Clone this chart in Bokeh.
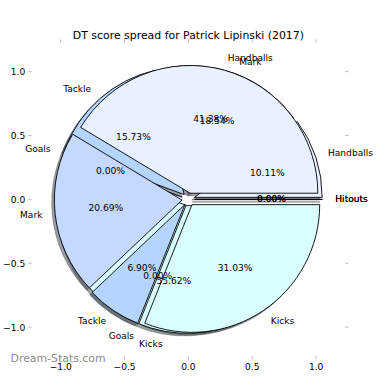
import numpy as np
from bokeh.plotting import figure
from bokeh.models import Range1d
from bokeh.embed import file_html
from bokeh.resources import INLINE
from bokeh.core.properties import value

# ---------------- data ----------------
title_text = "DT score spread for Patrick Lipinski (2017)"
watermark_text = "Dream-Stats.com"
categories = ["Handballs", "Mark", "Tackle", "Goals", "Kicks", "Hitouts"]
player_pct = [41.38, 20.69, 6.90, 0.00, 31.03, 0.00]     # pie drawn on top
compare_pct = [10.11, 18.54, 15.73, 0.00, 55.62, 0.00]   # pie drawn underneath
slice_colors = ["#e9f0ff", "#c5d8ff", "#b4d5ff", "#a5c8ff", "#d9ffff", "#e0f0ff"]
ticks = [-1.0, -0.5, 0.0, 0.5, 1.0]
tick_labels = ["\u22121.0", "\u22120.5", "0.0", "0.5", "1.0"]

# ---------------- layout constants ----------------
W = H = 374
PPU = 140.0                          # reference pixels per data unit
win_l, win_r, win_t, win_b = -11, 399, -8, 402   # reference-pixel window shown
s = W / float(win_r - win_l)
x_lo, x_hi = (win_l - 195) / PPU, (win_r - 195) / PPU
y_hi, y_lo = (210 - win_t) / PPU, (210 - win_b) / PPU
lim = 1.228                          # axes box half size
explode = 0.05
shadow_off = 0.02
FONT = "DejaVu Sans"
fs = f"{10 * s:.1f}px"

p = figure(width=W, height=H, output_backend="svg", toolbar_location=None,
           x_range=Range1d(x_lo, x_hi), y_range=Range1d(y_lo, y_hi),
           x_axis_location=None, y_axis_location=None, min_border=0)
p.outline_line_color = None
p.background_fill_color = "white"
p.border_fill_color = "white"
p.grid.visible = False


def geometry(pcts):
    fr = np.asarray(pcts, float) / np.sum(pcts)
    t2 = np.cumsum(fr) * 2 * np.pi
    t1 = np.concatenate([[0.0], t2[:-1]])
    tm = (t1 + t2) / 2
    cx = explode * np.cos(tm)
    cy = explode * np.sin(tm)
    return fr, t1, t2, tm, cx, cy


def shade(hexcol):
    r, g, b = (int(hexcol[i:i + 2], 16) for i in (1, 3, 5))
    return "#%02x%02x%02x" % (int(0.3 * r), int(0.3 * g), int(0.3 * b))


pies = [geometry(compare_pct), geometry(player_pct)]   # underneath first
shadow_cols = [shade(c) for c in slice_colors]


def draw(geo, dx, dy, fills, lines, alpha):
    fr, t1, t2, tm, cx, cy = geo
    nz = fr > 0
    z = ~nz
    idx = np.arange(len(fr))
    p.wedge(x=list(cx[nz] + dx), y=list(cy[nz] + dy), radius=1.0,
            start_angle=list(t1[nz]), end_angle=list(t2[nz]), direction="anticlock",
            fill_color=[fills[i] for i in idx[nz]], fill_alpha=alpha,
            line_color=[lines[i] for i in idx[nz]] if isinstance(lines, list) else lines,
            line_alpha=alpha, line_width=0.9)
    if z.any():
        p.segment(x0=list(cx[z] + dx), y0=list(cy[z] + dy),
                  x1=list(cx[z] + dx + np.cos(t1[z])), y1=list(cy[z] + dy + np.sin(t1[z])),
                  line_color=[lines[i] for i in idx[z]] if isinstance(lines, list) else lines,
                  line_alpha=alpha, line_width=0.9)


# shadows of all wedges first
for geo in pies:
    draw(geo, -shadow_off, -shadow_off, shadow_cols, shadow_cols, 0.5)
# wedges
for geo in pies:
    draw(geo, 0.0, 0.0, slice_colors, "black", 1.0)

# texts
for geo, pcts in zip(pies, [compare_pct, player_pct]):
    fr, t1, t2, tm, cx, cy = geo
    lx = cx + 1.1 * np.cos(tm)
    ly = cy + 1.1 * np.sin(tm)
    for i, lab in enumerate(categories):
        p.text(x=[lx[i]], y=[ly[i]], text=[lab], text_font=value(FONT), text_font_size=fs,
               text_align="left" if lx[i] > 0 else "right", text_baseline="middle",
               text_color="black")
    px_ = cx + 0.6 * np.cos(tm)
    py_ = cy + 0.6 * np.sin(tm)
    p.text(x=list(px_), y=list(py_), text=["%.2f%%" % (100 * f) for f in fr],
           text_font=value(FONT), text_font_size=fs, text_align="center",
           text_baseline="middle", text_color="black")

# axis ticks (on all four sides, pointing outwards)
tl = 3.5 / PPU
tick_col = "#bbbbbb"
n = len(ticks)
p.segment(x0=[-lim] * n, y0=ticks, x1=[-lim - tl] * n, y1=ticks, line_color=tick_col, line_width=1)
p.segment(x0=[lim] * n, y0=ticks, x1=[lim + tl] * n, y1=ticks, line_color=tick_col, line_width=1)
p.segment(x0=ticks, y0=[lim] * n, x1=ticks, y1=[lim + tl] * n, line_color=tick_col, line_width=1)
p.segment(x0=ticks, y0=[-lim] * n, x1=ticks, y1=[-lim - tl] * n, line_color=tick_col, line_width=1)
p.text(x=[-lim] * n, y=ticks, text=tick_labels, x_offset=-7 * s, text_align="right",
       text_baseline="middle", text_font=value(FONT), text_font_size=fs, text_color="black")
p.text(x=ticks, y=[-lim] * n, text=tick_labels, y_offset=7 * s, text_align="center",
       text_baseline="top", text_font=value(FONT), text_font_size=fs, text_color="black")

# title
p.text(x=[0.0], y=[lim], text=[title_text], y_offset=-8 * s, text_align="center",
       text_baseline="alphabetic", text_font=value(FONT), text_font_size=f"{12 * s:.1f}px",
       text_color="black")

# watermark (bottom-left corner of the original picture)
p.text(x=[-195 / PPU], y=[-174 / PPU], text=[watermark_text],
       text_align="left", text_baseline="alphabetic", text_font=value(FONT),
       text_font_size=f"{12 * s:.1f}px", text_color="#8c8c8c")

open("out.html", "w").write(file_html(p, INLINE))
